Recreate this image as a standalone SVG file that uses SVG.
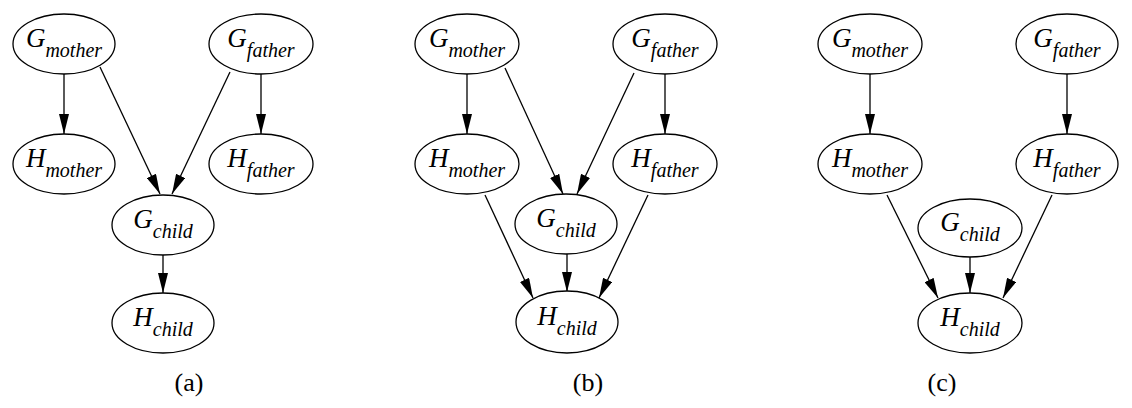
<svg xmlns="http://www.w3.org/2000/svg" width="1132" height="408" viewBox="0 0 1132 408">
<style>
.n ellipse{fill:#fff;stroke:#000;stroke-width:1.3}
.n text{font-family:"Liberation Serif","Times New Roman",serif;font-style:italic;font-size:27px;fill:#000;text-anchor:middle}
.n tspan.s{font-size:20px}
.e line{stroke:#000;stroke-width:1.3;marker-end:url(#ah)}
.cap{font-family:"Liberation Serif","Times New Roman",serif;font-size:26px;fill:#000;text-anchor:middle}
</style>
<defs>
<marker id="ah" markerUnits="userSpaceOnUse" markerWidth="20" markerHeight="10" refX="20" refY="5" orient="auto" viewBox="0 0 20 10">
<path d="M0,0 L20,5 L0,10 Z" fill="#000"/>
</marker>
</defs>
<rect width="1132" height="408" fill="#fff"/>

<g id="connectors" class="e">
<line x1="64" y1="74" x2="64" y2="134"/>
<line x1="100" y1="67" x2="160" y2="194"/>
<line x1="230" y1="72" x2="172" y2="194"/>
<line x1="261" y1="74" x2="261" y2="134"/>
<line x1="163" y1="255" x2="163" y2="293"/>
<line x1="467" y1="74" x2="467" y2="134"/>
<line x1="505" y1="68" x2="563" y2="194"/>
<line x1="634" y1="73" x2="577" y2="194"/>
<line x1="665" y1="74" x2="665" y2="134"/>
<line x1="485" y1="195" x2="533" y2="298"/>
<line x1="567" y1="254" x2="567" y2="292"/>
<line x1="648" y1="195" x2="599" y2="298"/>
<line x1="870" y1="74" x2="870" y2="134"/>
<line x1="1067" y1="74" x2="1067" y2="134"/>
<line x1="887" y1="195" x2="938" y2="298"/>
<line x1="970" y1="257" x2="970" y2="293"/>
<line x1="1052" y1="195" x2="1003" y2="298"/>
</g>

<g id="a_Gmother" class="n"><ellipse cx="64" cy="44" rx="51" ry="30"/><text x="64" y="47">G<tspan class="s" dy="10">mother</tspan></text></g>
<g id="a_Gfather" class="n"><ellipse cx="261" cy="44" rx="52" ry="30"/><text x="261" y="47">G<tspan class="s" dy="10">father</tspan></text></g>
<g id="a_Hmother" class="n"><ellipse cx="64" cy="164" rx="51" ry="30"/><text x="64" y="167">H<tspan class="s" dy="10">mother</tspan></text></g>
<g id="a_Hfather" class="n"><ellipse cx="261" cy="164" rx="52" ry="30"/><text x="261" y="167">H<tspan class="s" dy="10">father</tspan></text></g>
<g id="a_Gchild" class="n"><ellipse cx="163" cy="225" rx="51" ry="30"/><text x="163" y="228">G<tspan class="s" dy="10">child</tspan></text></g>
<g id="a_Hchild" class="n"><ellipse cx="163" cy="323" rx="51" ry="30"/><text x="163" y="326">H<tspan class="s" dy="10">child</tspan></text></g>
<text class="cap" x="189" y="391">(a)</text>

<g id="b_Gmother" class="n"><ellipse cx="467" cy="44" rx="52" ry="30"/><text x="467" y="47">G<tspan class="s" dy="10">mother</tspan></text></g>
<g id="b_Gfather" class="n"><ellipse cx="665" cy="44" rx="52" ry="30"/><text x="665" y="47">G<tspan class="s" dy="10">father</tspan></text></g>
<g id="b_Hmother" class="n"><ellipse cx="467" cy="164" rx="52" ry="30"/><text x="467" y="167">H<tspan class="s" dy="10">mother</tspan></text></g>
<g id="b_Hfather" class="n"><ellipse cx="665" cy="164" rx="52" ry="30"/><text x="665" y="167">H<tspan class="s" dy="10">father</tspan></text></g>
<g id="b_Gchild" class="n"><ellipse cx="566" cy="224" rx="51" ry="30"/><text x="566" y="227">G<tspan class="s" dy="10">child</tspan></text></g>
<g id="b_Hchild" class="n"><ellipse cx="567" cy="322" rx="51" ry="31"/><text x="567" y="325">H<tspan class="s" dy="10">child</tspan></text></g>
<text class="cap" x="588" y="391">(b)</text>

<g id="c_Gmother" class="n"><ellipse cx="870" cy="44" rx="52" ry="30"/><text x="870" y="47">G<tspan class="s" dy="10">mother</tspan></text></g>
<g id="c_Gfather" class="n"><ellipse cx="1067" cy="44" rx="51" ry="30"/><text x="1067" y="47">G<tspan class="s" dy="10">father</tspan></text></g>
<g id="c_Hmother" class="n"><ellipse cx="870" cy="164" rx="52" ry="30"/><text x="870" y="167">H<tspan class="s" dy="10">mother</tspan></text></g>
<g id="c_Hfather" class="n"><ellipse cx="1067" cy="164" rx="51" ry="30"/><text x="1067" y="167">H<tspan class="s" dy="10">father</tspan></text></g>
<g id="c_Gchild" class="n"><ellipse cx="970" cy="228" rx="52" ry="29"/><text x="970" y="231">G<tspan class="s" dy="10">child</tspan></text></g>
<g id="c_Hchild" class="n"><ellipse cx="970" cy="323" rx="52" ry="30"/><text x="970" y="326">H<tspan class="s" dy="10">child</tspan></text></g>
<text class="cap" x="942" y="391">(c)</text>
</svg>
